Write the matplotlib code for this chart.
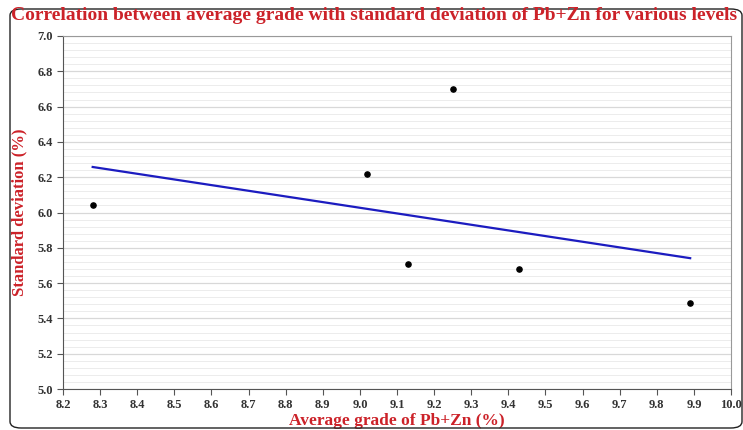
import matplotlib.pyplot as plt
import numpy as np
from matplotlib.patches import FancyBboxPatch
from matplotlib.ticker import MultipleLocator

# Average grade vs standard deviation of Pb+Zn per level
avg_grade = [8.28, 9.02, 9.13, 9.25, 9.43, 9.89]
std_dev = [6.04, 6.22, 5.71, 6.70, 5.68, 5.49]

RED = "#cc2229"
SERIF = "Liberation Serif"

fig = plt.figure(figsize=(7.43, 4.30), dpi=100)
ax = fig.add_axes([63 / 743, 1 - 389 / 430, (731 - 63) / 743, (389 - 36) / 430])

# outer rounded frame
frame = FancyBboxPatch((10 / 743, 2 / 430), 732 / 743, 419 / 430,
                       boxstyle="round,pad=0,rounding_size=0.015",
                       transform=fig.transFigure, fill=False,
                       edgecolor="#222222", linewidth=1.0)
fig.patches.append(frame)

ax.set_xlim(8.2, 10.0)
ax.set_ylim(5.0, 7.0)
ax.xaxis.set_major_locator(MultipleLocator(0.1))
ax.yaxis.set_major_locator(MultipleLocator(0.2))
ax.yaxis.set_minor_locator(MultipleLocator(0.04))
ax.grid(which="major", axis="y", color="#d8d8d8", linewidth=0.9)
ax.grid(which="minor", axis="y", color="#ececec", linewidth=0.7)
ax.set_axisbelow(True)

ax.scatter(avg_grade, std_dev, s=14, color="black", zorder=3)

# linear trendline across the data range
slope, icept = np.polyfit(avg_grade, std_dev, 1)
xs = np.array([min(avg_grade), max(avg_grade)])
ax.plot(xs, slope * xs + icept, color="#1c1cc0", linewidth=1.6, zorder=2)

for s in ax.spines.values():
    s.set_color("#999999")
ax.spines["left"].set_color("#555555")
ax.spines["bottom"].set_color("#555555")
ax.tick_params(which="major", direction="out", length=4, color="#555555")
ax.tick_params(which="minor", length=0)
for lbl in ax.get_xticklabels() + ax.get_yticklabels():
    lbl.set_fontfamily(SERIF)
    lbl.set_fontweight("bold")
    lbl.set_fontsize(9)
    lbl.set_color("#333333")
ax.xaxis.set_major_formatter(plt.FormatStrFormatter("%.1f"))
ax.yaxis.set_major_formatter(plt.FormatStrFormatter("%.1f"))

ax.set_xlabel("Average grade of Pb+Zn (%)", fontfamily=SERIF, fontweight="bold",
              fontsize=12.5, color=RED, labelpad=1)
ax.set_ylabel("Standard deviation (%)", fontfamily=SERIF, fontweight="bold",
              fontsize=12, color=RED, labelpad=7)
fig.text(374 / 743, 1 - 15 / 430,
         "Correlation between average grade with standard deviation of Pb+Zn for various levels",
         ha="center", va="center", fontfamily=SERIF, fontweight="bold",
         fontsize=14, color=RED)

fig.savefig("out.png", dpi=100)
